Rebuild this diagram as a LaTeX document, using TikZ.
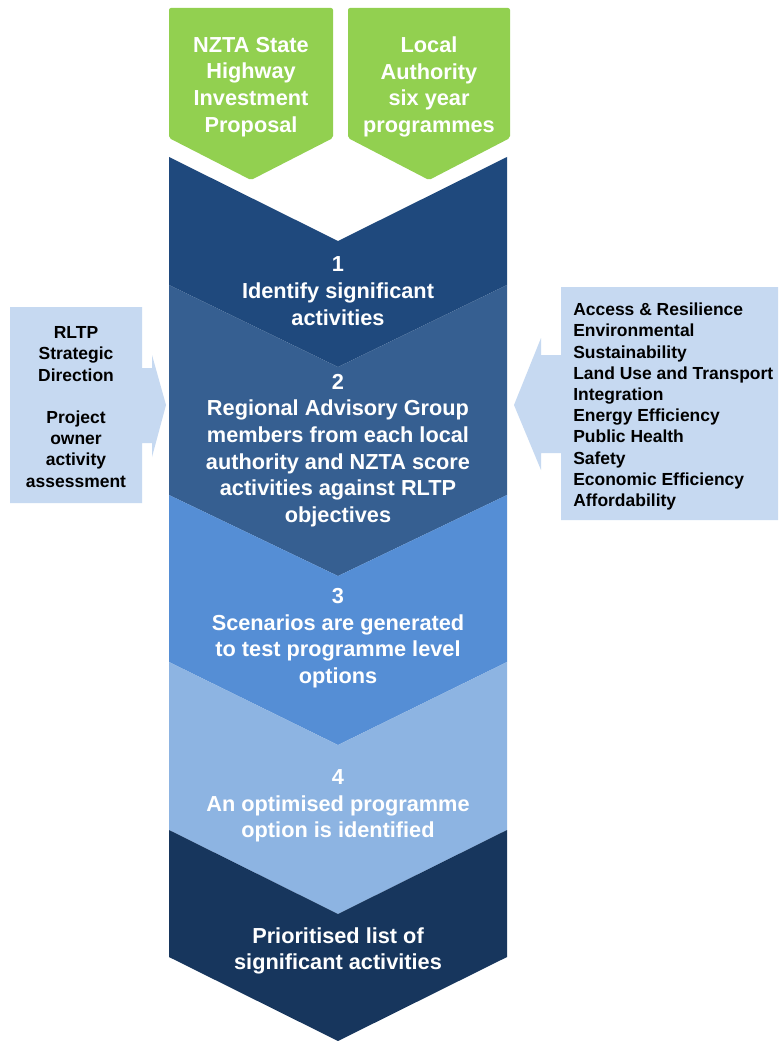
\documentclass[tikz,border=0pt]{standalone}
\usepackage{fontspec}
\setmainfont{Liberation Sans}
\definecolor{grn}{RGB}{146,208,80}
\definecolor{cA}{RGB}{31,73,125}
\definecolor{cB}{RGB}{54,95,145}
\definecolor{cC}{RGB}{85,142,213}
\definecolor{cD}{RGB}{141,180,226}
\definecolor{cE}{RGB}{23,54,93}
\definecolor{lite}{RGB}{198,217,241}
\begin{document}
\begin{tikzpicture}[x=0.75pt,y=-0.75pt,
  maintext/.style={text=white, inner sep=0pt, align=center, font=\bfseries\fontsize{16.3}{20}\selectfont},
  sidetext/.style={text=black, inner sep=0pt, font=\bfseries\fontsize{13.1}{15.9}\selectfont}]
\useasboundingbox (0,0) rectangle (778,1041);
\fill[white] (0,0) rectangle (778,1041);
% green input chevrons
\fill[grn, rounded corners=1.5pt] (169,8) -- (333,8) -- (333,138) -- (251,180) -- (169,138) -- cycle;
\fill[grn, rounded corners=1.5pt] (348,8) -- (510,8) -- (510,138) -- (429,180) -- (348,138) -- cycle;
% main chevrons
\fill[cA] (169,157) -- (338,241) -- (507,157) -- (507,285) -- (338,367) -- (169,285) -- cycle;
\fill[cB] (169,285) -- (338,367) -- (507,285) -- (507,495) -- (338,576) -- (169,495) -- cycle;
\fill[cC] (169,495) -- (338,576) -- (507,495) -- (507,662) -- (338,745) -- (169,662) -- cycle;
\fill[cD] (169,662) -- (338,745) -- (507,662) -- (507,830) -- (338,914) -- (169,830) -- cycle;
\fill[cE] (169,830) -- (338,914) -- (507,830) -- (507,957) -- (338,1041) -- (169,957) -- cycle;
% side boxes with arrows
\fill[lite] (10,307) -- (142,307) -- (142,368) -- (152,368) -- (152,355) -- (166,405) -- (152,457) -- (152,443) -- (142,443) -- (142,503) -- (10,503) -- cycle;
\fill[lite] (778,287) -- (561,287) -- (561,355) -- (541,355) -- (541,338) -- (514,405) -- (541,470) -- (541,453) -- (561,453) -- (561,520) -- (778,520) -- cycle;
% texts
\node[maintext] (g1) at (251,87) {NZTA State\\Highway\\Investment\\Proposal};
\node[maintext] (g2) at (429,87) {Local\\Authority\\six year\\programmes};
\node[maintext] (s1) at (338,291) {1\\Identify significant\\activities};
\node[maintext] (s2) at (338,450.5) {2\\Regional Advisory Group\\members from each local\\authority and NZTA score\\activities against RLTP\\objectives};
\node[maintext] (s3) at (338,638) {3\\Scenarios are generated\\to test programme level\\options};
\node[maintext] (s4) at (338,806) {4\\An optimised programme\\option is identified};
\node[maintext] (s5) at (338,951) {Prioritised list of\\significant activities};
\node[sidetext, align=center] (lt) at (76,407) {RLTP\\Strategic\\Direction\\[15.9pt]Project\\owner\\activity\\assessment};
\node[sidetext, align=left, anchor=west] (rt) at (573,406.5) {Access \& Resilience\\Environmental\\Sustainability\\Land Use and Transport\\Integration\\Energy Efficiency\\Public Health\\Safety\\Economic Efficiency\\Affordability};
\end{tikzpicture}
\end{document}
